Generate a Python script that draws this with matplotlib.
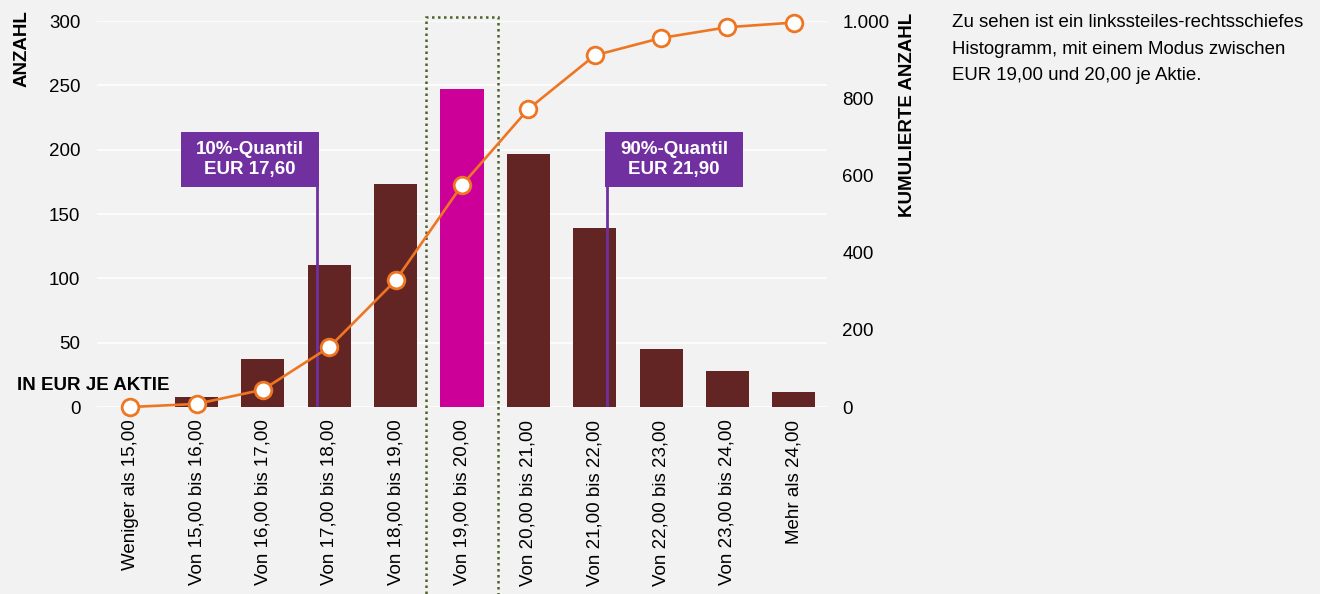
import matplotlib
matplotlib.use('Agg')
import matplotlib.pyplot as plt
from matplotlib.patches import Rectangle
import matplotlib.transforms as mtransforms
import numpy as np

plt.rcParams['font.family'] = ['Liberation Sans', 'DejaVu Sans']

# Data
categories = ['Weniger als 15,00', 'Von 15,00 bis 16,00', 'Von 16,00 bis 17,00',
              'Von 17,00 bis 18,00', 'Von 18,00 bis 19,00', 'Von 19,00 bis 20,00',
              'Von 20,00 bis 21,00', 'Von 21,00 bis 22,00', 'Von 22,00 bis 23,00',
              'Von 23,00 bis 24,00', 'Mehr als 24,00']
counts = [0, 8, 37, 110, 173, 247, 197, 139, 45, 28, 12]
cumulative = np.cumsum(counts)
mode_idx = 5
left_ticks = [0, 50, 100, 150, 200, 250, 300]
right_ticks = [0, 200, 400, 600, 800, 1000]
right_ticklabels = ['0', '200', '400', '600', '800', '1.000']
quantiles = [('10%-Quantil\nEUR 17,60', 2.82, 'left'), ('90%-Quantil\nEUR 21,90', 7.18, 'right')]

BG = '#f2f2f2'
BAR = '#632523'
HIGHLIGHT = '#cc0099'
ORANGE = '#ee7623'
PURPLE = '#7030a0'

fig = plt.figure(figsize=(13.2, 5.94), dpi=100, facecolor=BG)
ax = fig.add_axes([0.0735, 0.3148, 0.553, 0.6498])
ax.set_facecolor(BG)

x = np.arange(len(categories))
colors = [HIGHLIGHT if i == mode_idx else BAR for i in x]
ax.bar(x, counts, width=0.65, color=colors, zorder=2)

ax.set_xlim(-0.5, len(categories) - 0.5)
ax.set_ylim(0, 300)
ax.set_yticks(left_ticks)
ax.set_xticks(x)
ax.set_xticklabels(categories, rotation=90, fontsize=13.5)
ax.tick_params(axis='both', length=0, labelsize=13.5, colors='black')
ax.tick_params(axis='y', pad=12)
ax.tick_params(axis='x', pad=9)
ax.grid(axis='y', color='white', linewidth=1.2, zorder=0)
ax.set_axisbelow(True)
for s in ax.spines.values():
    s.set_visible(False)

# cumulative line
ax2 = ax.twinx()
ax2.set_ylim(0, 1000)
ax2.set_yticks(right_ticks)
ax2.set_yticklabels(right_ticklabels)
ax2.tick_params(axis='y', length=0, labelsize=13.5, pad=11)
for s in ax2.spines.values():
    s.set_visible(False)

# quantile markers (box from 0.570 to 0.712 of axes height, 2.07 categories wide)
btrans = mtransforms.blended_transform_factory(ax2.transData, ax2.transAxes)
for label, xpos, side in quantiles:
    ax2.plot([xpos, xpos], [5, 570], color=PURPLE, linewidth=2, zorder=3)
    bx = xpos - 2.05 if side == 'left' else xpos - 0.02
    ax2.add_patch(Rectangle((bx, 0.570), 2.07, 0.142, transform=btrans,
                            facecolor=PURPLE, edgecolor='none', zorder=4))
    ax2.text(bx + 1.035, 0.641, label, transform=btrans, ha='center', va='center',
             multialignment='center', color='white', fontsize=13.5, fontweight='bold',
             linespacing=1.25, zorder=6)

ax2.plot(x, cumulative, color=ORANGE, linewidth=1.9, marker='o', markersize=12,
         markerfacecolor='white', markeredgecolor=ORANGE, markeredgewidth=2, zorder=5,
         clip_on=False)

# dotted highlight box around mode
trans = mtransforms.blended_transform_factory(ax.transData, ax.transAxes)
box = Rectangle((mode_idx - 0.54, -0.49), 1.08, 1.5, transform=trans, fill=False,
                edgecolor='#4f6228', linestyle=(0, (1, 1.4)), linewidth=1.8, clip_on=False, zorder=7)
ax.add_patch(box)

# axis titles
fig.text(22 / 1320, 1 - 10 / 594, 'ANZAHL', rotation=90, ha='center', va='top',
         fontsize=13.5, fontweight='bold')
fig.text(907 / 1320, 1 - 13 / 594, 'KUMULIERTE ANZAHL', rotation=90, ha='center', va='top',
         fontsize=13.5, fontweight='bold')
fig.text(17 / 1320, 1 - 385 / 594, 'IN EUR JE AKTIE', ha='left', va='center',
         fontsize=13.5, fontweight='bold')

fig.text(952 / 1320, 1 - 14 / 594,
         'Zu sehen ist ein linkssteiles-rechtsschiefes\nHistogramm, mit einem Modus zwischen\nEUR 19,00 und 20,00 je Aktie.',
         ha='left', va='top', fontsize=13.4, linespacing=1.75)

fig.savefig('out.png', dpi=100, facecolor=BG)
